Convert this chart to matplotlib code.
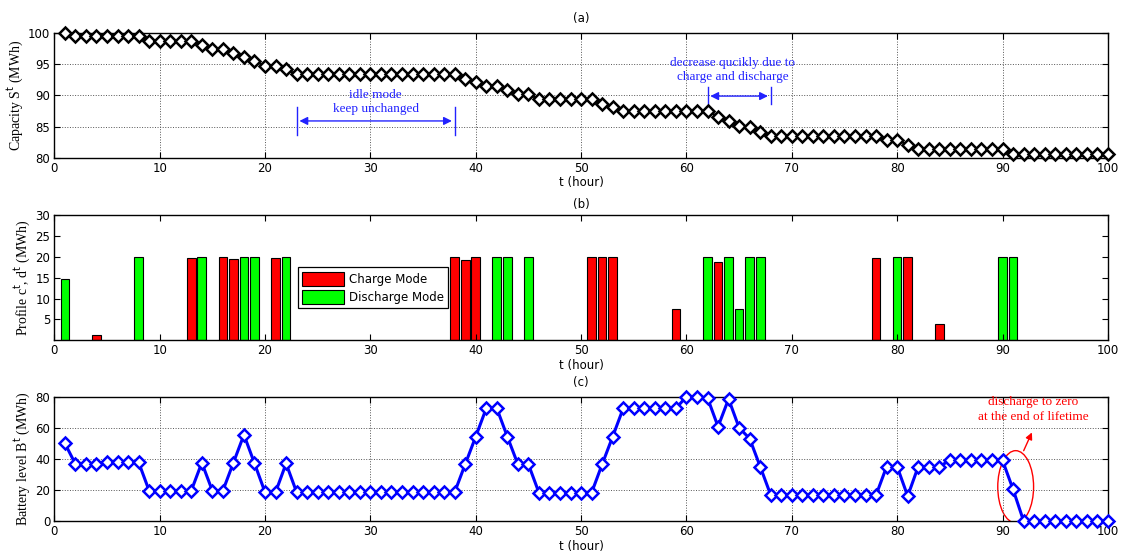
import numpy as np
import matplotlib
matplotlib.use("Agg")
import matplotlib.pyplot as plt
from matplotlib.patches import Ellipse

hours = np.arange(1, 101)

capacity = [
    100.0,
    99.6, 99.6, 99.6, 99.6, 99.6, 99.6, 99.6,
    98.7, 98.7, 98.7, 98.7, 98.7,
    98.1, 97.4, 97.4, 96.9, 96.2, 95.5, 94.8, 94.8, 94.2,
    93.4, 93.4, 93.4, 93.4, 93.4, 93.4, 93.4, 93.4,
    93.4, 93.4, 93.4, 93.4, 93.4, 93.4, 93.4, 93.4,
    92.7, 92.1, 91.6, 91.6, 90.9, 90.2, 90.2,
    89.4, 89.4, 89.4, 89.4, 89.4, 89.4,
    88.7, 88.1,
    87.5, 87.5, 87.5, 87.5, 87.5, 87.5, 87.5, 87.5, 87.5,
    86.6, 85.9, 85.1, 84.9, 84.1,
    83.4, 83.4, 83.4, 83.4, 83.4, 83.4, 83.4, 83.4, 83.4, 83.4, 83.4,
    82.8, 82.8, 82.1,
    81.4, 81.4, 81.4, 81.4, 81.4, 81.4, 81.4, 81.4, 81.4,
    80.6, 80.6, 80.6, 80.6, 80.6, 80.6, 80.6, 80.6, 80.6, 80.6,
]

battery = [
    50.0,
    36.7, 36.7, 36.7,
    37.8, 37.8, 37.8, 37.8,
    19.5, 19.5, 19.5, 19.5, 19.5,
    37.5, 19.5, 19.5, 37.5, 55.5, 37.1, 18.5, 18.5, 37.0,
    18.5, 18.5, 18.5, 18.5, 18.5, 18.5, 18.5, 18.5,
    18.5, 18.5, 18.5, 18.5, 18.5, 18.5, 18.5, 18.5,
    36.5, 54.3, 72.5, 72.5, 54.3, 36.5, 36.5,
    18.2, 18.2, 18.2, 18.2, 18.2, 18.2,
    36.5, 54.3,
    72.5, 72.5, 72.5, 72.5, 72.5, 72.5,
    80.0, 79.5, 79.2,
    60.7, 78.5, 60.0, 53.0, 35.0,
    16.7, 16.7, 16.7, 16.7, 16.7, 16.7, 16.7, 16.7, 16.7, 16.7, 16.7,
    35.0, 35.0, 16.0,
    35.0, 35.0, 35.0,
    39.0, 39.0, 39.0, 39.0, 39.0, 39.0,
    20.4,
    0.0, 0.0, 0.0, 0.0, 0.0, 0.0, 0.0, 0.0, 0.0,
]

charge_t = [4, 13, 16, 17, 21, 38, 39, 40, 51, 52, 53, 59, 63, 78, 81, 84]
charge_v = [1.2, 19.7, 20, 19.5, 19.7, 20, 19.2, 20, 20, 20, 20, 7.6, 18.8, 19.8, 20, 4.0]
discharge_t = [1, 8, 14, 18, 19, 22, 42, 43, 45, 62, 64, 65, 66, 67, 80, 90, 91]
discharge_v = [14.8, 20, 20, 20, 20, 20, 20, 20, 20, 20, 20, 7.5, 20, 20, 20, 20, 20]

xticks = list(range(0, 101, 10))

SANS = ["DejaVu Sans"]
SERIF = ["Liberation Serif", "DejaVu Serif"]
plt.rcParams["font.family"] = SANS
plt.rcParams["xtick.direction"] = "in"
plt.rcParams["ytick.direction"] = "in"

fig = plt.figure(figsize=(11.22, 5.55), dpi=100)
L, W = 0.0484, 0.939
ax_a = fig.add_axes([L, 0.716, W, 0.224])
ax_b = fig.add_axes([L, 0.387, W, 0.225])
ax_c = fig.add_axes([L, 0.0613, W, 0.224])

def style(ax):
    ax.set_xlim(0, 100)
    ax.set_xticks(xticks)
    ax.tick_params(axis="both", labelsize=8.5, top=True, right=True,
                   length=4, width=0.8, pad=3)
    for s in ax.spines.values():
        s.set_linewidth(1.0)
    ax.set_xlabel("t (hour)", fontsize=8.5, labelpad=1)

SFS = 9.5
# (a)
style(ax_a)
ax_a.plot(hours, capacity, color="black", lw=1.6, marker="D", ms=6.5,
          mfc="white", mec="black", mew=1.8, clip_on=False, zorder=3)
ax_a.set_ylim(80, 100)
ax_a.set_yticks([80, 85, 90, 95, 100])
ax_a.grid(True, linestyle=":", color="#555555", linewidth=0.7)
ax_a.set_ylabel("Capacity S$^{\\rm t}$ (MWh)", family=SERIF, fontsize=10, labelpad=2)
ax_a.set_title("(a)", fontsize=8.5, pad=8)
blue = "#2222ff"
ax_a.annotate("", xy=(23, 85.9), xytext=(38, 85.9),
              arrowprops=dict(arrowstyle="<|-|>", color=blue, lw=1.0, mutation_scale=12))
ax_a.plot([23, 23], [83.7, 88.2], color=blue, lw=1.0)
ax_a.plot([38, 38], [83.7, 88.2], color=blue, lw=1.0)
ax_a.text(30.5, 90.1, "idle mode", family=SERIF, fontsize=SFS, color=blue, ha="center", va="center")
ax_a.text(30.5, 87.9, "keep unchanged", family=SERIF, fontsize=SFS, color=blue, ha="center", va="center")
ax_a.annotate("", xy=(62, 89.9), xytext=(68, 89.9),
              arrowprops=dict(arrowstyle="<|-|>", color=blue, lw=1.0, mutation_scale=12))
ax_a.plot([62, 62], [88.6, 91.3], color=blue, lw=1.0)
ax_a.plot([68, 68], [88.6, 91.3], color=blue, lw=1.0)
ax_a.text(64.4, 95.2, "decrease qucikly due to", family=SERIF, fontsize=SFS, color=blue, ha="center", va="center")
ax_a.text(64.4, 92.9, "charge and discharge", family=SERIF, fontsize=SFS, color=blue, ha="center", va="center")

# (b)
style(ax_b)
bw = 0.82
ax_b.bar(charge_t, charge_v, width=bw, color="#ff0000", edgecolor="black", lw=0.8, label="Charge Mode")
ax_b.bar(discharge_t, discharge_v, width=bw, color="#00ff00", edgecolor="black", lw=0.8, label="Discharge Mode")
ax_b.set_ylim(0, 30)
ax_b.set_yticks([5, 10, 15, 20, 25, 30])
ax_b.set_ylabel("Profile c$^{\\rm t}$, d$^{\\rm t}$ (MWh)", family=SERIF, fontsize=10, labelpad=2)
ax_b.set_title("(b)", fontsize=8.5, pad=5)
leg = ax_b.legend(loc="upper left", bbox_to_anchor=(0.2255, 0.63), fontsize=8.5,
                  fancybox=False, edgecolor="black", framealpha=1, handlelength=3.6,
                  handleheight=1.5, borderpad=0.35, labelspacing=0.3, handletextpad=0.4)
leg.get_frame().set_linewidth(0.9)

# (c)
style(ax_c)
ax_c.plot(hours, battery, color="#0000ff", lw=2.2, marker="D", ms=6.5,
          mfc="white", mec="#0000ff", mew=1.8, clip_on=False, zorder=3)
ax_c.set_ylim(0, 80)
ax_c.set_yticks([0, 20, 40, 60, 80])
ax_c.grid(True, linestyle=":", color="#555555", linewidth=0.7)
ax_c.set_ylabel("Battery level B$^{\\rm t}$ (MWh)", family=SERIF, fontsize=10, labelpad=2)
ax_c.set_title("(c)", fontsize=8.5, pad=8)
ax_c.add_patch(Ellipse((91.25, 22), 3.4, 46.5, fill=False, edgecolor="red", lw=1.0))
ax_c.annotate("", xy=(92.9, 58.6), xytext=(91.9, 43.6),
              arrowprops=dict(arrowstyle="-|>", color="red", lw=1.0, mutation_scale=10))
ax_c.text(92.9, 76.5, "discharge to zero", family=SERIF, fontsize=SFS, color="red", ha="center", va="center")
ax_c.text(92.9, 67.2, "at the end of lifetime", family=SERIF, fontsize=SFS, color="red", ha="center", va="center")

fig.savefig("out.png", dpi=100)
